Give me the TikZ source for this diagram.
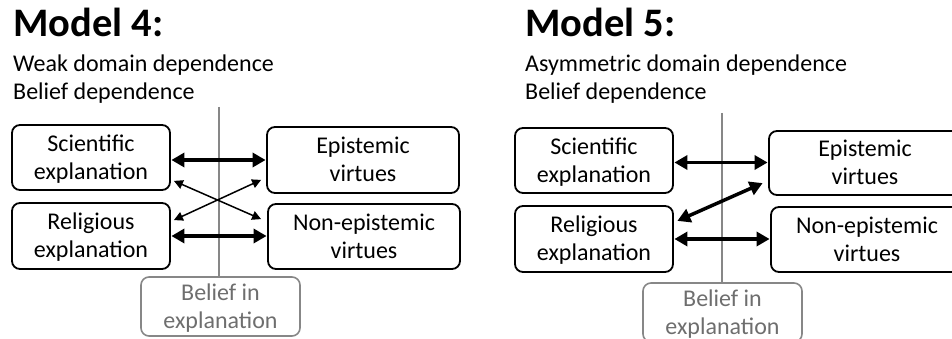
\documentclass[tikz,border=0pt]{standalone}
\usepackage{fontspec}
\setmainfont{Carlito}
\usetikzlibrary{arrows.meta,calc}
\definecolor{linegray}{RGB}{135,135,135}
\definecolor{textgray}{RGB}{110,110,110}
\tikzset{
  box/.style={draw=black, line width=1.8pt, rounded corners=8pt, align=center,
    font=\fontsize{24}{28}\selectfont, inner sep=0pt, text depth=1pt},
  graybox/.style={draw=linegray, line width=1.6pt, rounded corners=8pt, align=center,
    text=textgray, font=\fontsize{24}{28}\selectfont, inner sep=0pt, text depth=1pt},
  title/.style={anchor=base west, inner sep=0pt, font=\fontsize{40.5}{44}\selectfont\bfseries},
  sub/.style={anchor=base west, inner sep=0pt, font=\fontsize{24}{28}\selectfont},
  thickarr/.style={line width=3.5pt, {Triangle[length=13pt,width=14pt]}-{Triangle[length=13pt,width=14pt]}, shorten <=0.5pt, shorten >=0.5pt},
  thinarr/.style={line width=1.5pt, {Triangle[length=9pt,width=9pt]}-{Triangle[length=9pt,width=9pt]}},
  vline/.style={draw=linegray, line width=1.5pt}
}
\begin{document}
\begin{tikzpicture}[x=1pt,y=-1pt]
\useasboundingbox (0,0) rectangle (952,339);
\clip (0,0) rectangle (952,339);
% ---------- Model 4 ----------
\node[title] (t4) at (13,37) {Model 4:};
\node[sub] (s4a) at (13,72) {Weak domain dependence};
\node[sub] (s4b) at (13,100) {Belief dependence};
\coordinate (top4) at (219,107);
\node[graybox, minimum width=159pt, minimum height=59pt] (bel4) at (220.5,306.5) {Belief in\\explanation};
\draw[vline] (top4) -- (top4 |- bel4.north);
\node[box, minimum width=158pt, minimum height=65pt] (sci4) at (91,157.5) {Scientific\\explanation};
\node[box, minimum width=192pt, minimum height=66pt] (epi4) at (363,160) {Epistemic\\virtues};
\node[box, minimum width=158pt, minimum height=66pt] (rel4) at (91,236) {Religious\\explanation};
\node[box, minimum width=192pt, minimum height=65pt] (non4) at (364,236.5) {Non-epistemic\\virtues};
\coordinate (a4) at ($(sci4.east)+(0,2.5)$);
\draw[thickarr] (a4) -- (a4 -| epi4.west);
\draw[thickarr] (rel4.east) -- (rel4.east -| non4.west);
\draw[thinarr] ($(sci4.south east)+(3,-10)$) -- ($(non4.north west)+(-6,16)$);
\draw[thinarr] ($(rel4.north east)+(3,18)$) -- ($(epi4.south west)+(-5,-14)$);
% ---------- Model 5 ----------
\node[title] (t5) at (525,37) {Model 5:};
\node[sub] (s5a) at (525,72) {Asymmetric domain dependence};
\node[sub] (s5b) at (525,100) {Belief dependence};
\coordinate (top5) at (722,113);
\node[graybox, minimum width=159pt, minimum height=59pt] (bel5) at (722.5,312.5) {Belief in\\explanation};
\draw[vline] (top5) -- (top5 |- bel5.north);
\node[box, minimum width=158pt, minimum height=65pt] (sci5) at (594,160.5) {Scientific\\explanation};
\node[box, minimum width=192pt, minimum height=64pt] (epi5) at (865,163) {Epistemic\\virtues};
\node[box, minimum width=158pt, minimum height=66pt] (rel5) at (594,239) {Religious\\explanation};
\node[box, minimum width=192pt, minimum height=65pt] (non5) at (867,239.5) {Non-epistemic\\virtues};
\coordinate (a5) at ($(sci5.east)+(0,2)$);
\draw[thickarr] (a5) -- (a5 -| epi5.west);
\draw[thickarr] (rel5.east) -- (rel5.east -| non5.west);
\draw[thickarr] ($(rel5.north east)+(3,16)$) -- ($(epi5.south west)+(-5,-13)$);
\end{tikzpicture}
\end{document}
